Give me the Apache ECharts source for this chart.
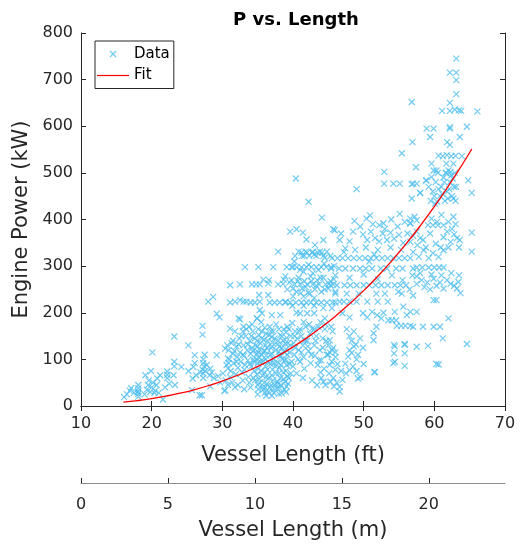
<!DOCTYPE html>
<html><head><meta charset="utf-8">
<script src="https://cdn.jsdelivr.net/npm/echarts@6/dist/echarts.min.js"></script>
<style>html,body{margin:0;padding:0;background:#fff}#c{width:528px;height:548px}</style>
</head><body><div id="c"></div>
<script>
// ---- Data ----
const chartTitle = 'P vs. Length';
const xTicksFt = [10, 20, 30, 40, 50, 60, 70];
const yTicksKW = [0, 100, 200, 300, 400, 500, 600, 700, 800];
const xTicksM = [0, 5, 10, 15, 20];

// vessel length (ft), engine power (kW)
const ptsShort = [
[16.1,19],[16.5,25],[16.9,33],[17.1,38],[17.5,28],[18.0,30],[18.1,20],[18.1,26],[18.1,32],[18.1,38],[18.1,45],
[19.0,25],[19.1,66],[19.3,35],[19.5,45],[19.6,55],[19.8,30],[19.9,75],[20.0,40],[20.1,115],[20.2,50],[20.4,28],[20.5,33],[20.7,45],[20.8,59],[21.0,28],[21.2,66],[21.6,14],[21.9,40],[22.2,60],[22.2,67],[22.2,74],[22.5,48],
[23.1,66],[23.2,85],[23.2,95],[23.2,149],[23.3,45],[24.2,84],[25.2,130],[25.2,75],[25.7,34],[25.8,59],[25.9,84],[26.1,92],[26.1,109],[26.3,66],[26.8,23],[27.1,23],
[27.2,153],[27.2,172],[27.3,60],[27.3,70],[27.2,78],[27.4,85],[27.3,92],[27.3,100],[27.5,110],[27.6,75],[27.8,88],[26.9,72],
[28.0,224],[28.7,234],[28.2,66],[28.3,80],[28.5,72],[28.3,42],[28.8,60],[29.2,198],[29.6,190],[29.2,109],[29.4,64],[29.7,50],[30.1,70],[30.4,123],[30.4,34],[30.3,32],[30.8,80],[30.9,92],[30.8,102],[30.5,55],[30.8,45],[31.1,62],[31.4,50],[30.7,130],[31.1,166]
];

const ptsMidCore = [
[30.6,88],[30.9,120],[31.0,100],[31.2,75],[31.3,135],[31.5,112],[31.6,92],[31.8,160],[31.9,68],[32.0,128],[32.1,105],[32.2,82],[32.4,145],[32.5,186],[32.5,115],[32.6,95],[32.8,72],[32.9,160],[33.0,130],[33.1,108],[33.2,88],[33.1,36],[33.3,150],[33.5,120],[33.6,98],[33.7,62],[33.8,170],[33.9,140],[34.0,112],[34.1,85],[34.2,125],[34.3,160],[34.4,100],[34.5,75],[34.6,145],[34.6,55],
[35.0,25],[35.1,36],[35.0,45],[35.2,58],[34.9,68],[35.1,80],[35.0,92],[35.2,104],[35.1,115],[35.0,128],[34.9,140],[35.2,152],[35.1,165],[34.9,188],[35.3,206],
[36.0,28],[36.1,40],[35.9,50],[36.2,62],[36.0,72],[36.1,85],[35.8,96],[36.2,108],[36.0,118],[36.1,130],[35.9,142],[36.2,155],[36.0,168],[35.6,199],
[37.0,22],[37.1,33],[36.9,44],[37.2,55],[37.0,66],[37.1,78],[36.8,90],[37.2,100],[37.0,112],[36.9,124],[37.1,136],[37.0,148],[37.2,160],[37.0,195],[36.7,170],
[38.0,26],[38.1,38],[37.9,48],[38.2,60],[38.0,70],[38.1,82],[37.8,94],[38.2,106],[38.0,116],[38.1,128],[37.9,140],[38.2,152],[38.0,165],[38.2,195],
[39.0,30],[39.1,42],[38.9,52],[39.2,64],[39.0,75],[39.1,88],[38.8,98],[39.2,110],[39.0,122],[38.9,134],[39.1,146],[39.0,158],[39.2,170],
[35.5,75],[35.6,110],[36.5,95],[36.6,60],[36.4,140],[37.5,85],[37.6,120],[37.4,45],[38.5,100],[38.6,72],[38.4,150],[39.5,90],[39.6,130],[34.8,100],[35.4,135],[36.3,48],[37.7,38],[38.7,58],[39.4,60],[38.4,27],[36.5,30],[35.7,40],
[32.3,188],[34.9,188],
[31.5,140],[31.7,118],[32.0,95],[32.3,132],[32.7,150],[32.9,110],[33.1,78],[33.4,165],[33.6,132],[33.9,90],[34.1,150],[34.3,118],[34.5,95],[34.7,130],[34.9,112],[35.2,122],[35.4,95],[35.6,145],[35.7,65],[35.9,118],[36.1,100],[36.3,125],[36.4,78],[36.6,152],[36.8,110],[37.0,128],[37.3,92],[37.4,145],[37.6,70],[37.8,132],[38.1,110],[38.3,88],[38.4,125],[38.6,140],[38.8,115],[39.0,100],[39.3,135],[39.5,115],[39.7,150],[39.8,95],
[35.3,50],[35.8,35],[36.2,22],[36.7,40],[37.3,28],[37.8,52],[38.3,45],[38.8,35],[39.3,48],[39.7,70],[34.0,40],[34.4,60],[33.8,50],[32.9,55],[32.2,45],[31.8,40],
[35.6,160],[36.9,160],[38.7,165],[39.4,165],[33.0,170],[34.2,175],[35.5,180],[37.6,175],[39.9,178]
];

const ptsMidUpper = [
[40.0,85],[40.2,110],[40.1,135],[40.3,160],[40.5,70],[40.6,145],[40.8,120],[41.0,95],[41.0,165],[41.2,150],[41.4,130],[41.5,105],[41.6,80],[41.8,170],[42.0,140],[42.2,118],[42.4,155],[42.5,92],[42.7,166],[43.0,130],[43.1,108],[43.3,150],[43.5,88],[43.6,170],[43.8,120],[44.0,98],[44.0,60],[44.2,145],[44.4,80],[44.5,165],[44.6,45],[44.8,110],[45.0,130],[45.1,70],[45.3,52],[45.5,95],[45.6,160],[45.8,42],[46.0,115],[46.0,78],[44.3,52],[43.9,72],[45.2,88],[40.5,200],[41.0,199],[42.0,199],[43.0,199],[44.5,188],
[40.3,125],[40.7,100],[41.2,115],[41.7,140],[42.1,128],[42.6,110],[43.2,140],[43.7,98],[44.2,125],[44.7,140],[45.2,115],[45.7,125],[40.2,150],[40.9,160],[41.5,180],[42.3,175],[43.0,165],[43.9,180],[44.6,175],[45.4,170],[41.4,60],[42.7,55],[43.4,45],
[31.1,222],[31.8,224],[32.5,227],[33.0,224],[33.4,224],[34.0,222],[34.6,222],[35.3,224],[36.7,222],[37.4,222],[38.1,222],[38.9,222],[39.6,222],[40.4,222],[41.2,222],[41.9,222],[42.5,222],[43.3,222],[44.0,222],[44.8,222],[45.6,222],[46.0,222],[36.5,238],[35.2,238],[40.0,235],[43.0,232],
[39.0,224],[39.9,215],[41.5,215],[43.0,215],[44.3,210],[45.5,210],
[31.1,259],[35.8,271],[36.6,270],[38.7,271],[38.6,262],[39.2,250],[39.8,270],[40.2,261],[40.5,245],[40.8,275],[41.0,261],[41.3,252],[41.6,268],[42.0,261],[42.2,244],[42.5,278],[42.8,261],[43.1,250],[43.4,270],[43.7,261],[44.0,245],[44.3,275],[44.6,261],[45.0,252],[45.3,268],[45.7,261],[46.0,245],[32.5,261],[34.2,261],[34.8,261],[35.3,261],[36.5,263],[37.9,261],[41.5,235],[42.3,240],
[38.9,278],[39.5,265],[40.0,252],[40.7,268],[41.1,242],[41.8,255],[42.6,268],[43.3,258],[43.9,275],[44.5,250],[45.1,262],[45.8,272],
[33.2,298],[35.1,298],[37.2,298],[39.1,298],[39.8,298],[40.5,298],[41.2,298],[41.9,298],[42.6,298],[43.3,298],[44.0,298],[44.7,298],[45.4,298],[41.5,288],[42.8,285],[40.2,310],
[40.0,298],[41.0,292],[42.2,303],[43.6,292],[44.4,305],[45.8,300],
[37.9,331],[40.3,322],[40.8,331],[41.3,322],[41.8,331],[42.3,322],[42.8,331],[43.3,322],[43.8,331],[44.3,322],[44.8,331],[45.3,322],[41.2,329],[42.0,329],[42.7,329],[43.5,329],[44.1,329],[41.6,322],[43.0,325],[44.5,318],
[40.4,488],[42.2,438],[44.1,404],[39.6,374],[40.5,379],[41.4,372],[41.9,357],[44.3,356],[43.1,345],[45.7,379]
];

const ptsLong = [
[52.9,502],[52.9,477],[54.2,477],[55.1,477],[56.8,476],[57.5,477],[49.0,465],[56.8,445],[58.0,457],
[48.7,397],[50.4,402],[50.9,409],[52.2,388],[52.8,392],[53.9,400],[55.1,412],[56.6,392],[56.6,402],[55.8,395],
[45.9,377],[46.6,356],[47.4,338],[48.0,353],[48.5,374],[49.9,368],[50.5,356],[51.0,374],[51.6,360],[52.2,353],[52.7,370],[53.3,356],[53.8,372],[54.3,359],[55.0,367],[55.6,350],[56.2,370],
[47.2,330],[48.8,335],[50.3,340],[52.0,335],[53.8,340],[55.3,335],[46.8,370],[49.5,385],[51.3,390],[53.0,380],[54.8,385],
[45.5,317],[46.3,317],[47.0,317],[47.8,317],[48.6,317],[49.4,317],[50.2,317],[51.0,317],[51.8,317],[52.6,317],[53.4,317],[54.2,317],[55.0,317],[55.8,317],[56.6,317],[50.8,310],[51.5,325],
[45.4,295],[46.5,295],[47.4,295],[48.5,295],[49.5,295],[50.3,295],[51.2,295],[52.4,295],[53.3,295],[54.6,295],[55.5,295],[57.0,295],
[46.0,280],[48.0,275],[50.0,282],[52.0,272],[54.0,280],[55.5,270],[57.5,278],
[45.3,259],[46.2,259],[47.3,259],[48.1,259],[49.0,259],[50.0,259],[50.8,259],[51.7,259],[52.5,259],[53.4,259],[54.4,259],[55.2,259],[56.0,259],[56.5,250],[54.9,245],[55.4,241],
[46.0,241],[47.6,241],[49.3,241],[51.8,241],[53.0,241],
[46.6,224],[47.2,224],[48.0,224],[49.0,224],[50.5,224],[52.0,224],[53.4,224],[55.6,213],
[49.9,199],[50.5,190],[51.2,202],[51.9,195],[52.5,188],[52.8,200],[54.4,202],[53.5,184],[54.0,184],[54.6,184],[56.1,195],[47.0,199],[48.0,190],
[54.7,172],[55.3,172],[55.9,172],[56.6,172],[51.8,170],[51.4,156],[51.4,141],
[47.6,165],[48.0,150],[48.3,140],[48.6,128],[48.3,114],[48.0,120],[48.9,132],[49.2,110],[49.5,145],[49.9,125],[47.8,106],[48.6,160],[49.0,100],
[45.2,141],[45.5,120],[46.0,105],[46.3,90],[46.8,75],[45.7,60],[46.2,50],[46.6,41],[45.0,110],[46.6,31],
[47.4,91],[48.0,77],[49.2,59],[51.6,73],[54.3,131],[54.3,113],[54.4,95],[55.8,131],[55.8,113],
[47.0,56],[47.5,70],[48.5,85],[49.0,75],[49.5,62],[50.0,90],[51.5,72],[54.2,92],[54.4,128],[55.8,86],[55.8,133]
];

const ptsVeryLong = [
[59.5,440],[59.8,460],[60.2,480],[60.5,500],[60.8,450],[61.0,470],[61.3,490],[61.5,440],[61.8,460],[62.0,505],[62.2,480],[62.5,450],[62.8,470],[63.0,440],[59.9,505],[61.6,500],[62.4,495],[60.4,438],[61.1,455],[62.7,445],
[58.8,484],[59.2,470],[60.0,450],[60.6,465],[61.4,480],[62.1,465],[62.6,488],[63.1,470],[60.3,505],[61.9,445],
[57.0,477],[58.9,484],[58.0,457],[60.1,434],[59.6,491],[64.8,484],[65.3,457],
[56.6,392],[57.2,406],[57.5,398],[59.1,388],[59.8,388],[60.5,388],[61.3,388],[62.7,406],[65.3,372],
[59.6,402],[60.4,395],[61.0,410],[62.0,395],[62.5,380],[63.0,390],
[56.6,352],[57.0,365],[57.5,374],[58.0,360],[58.4,356],[59.4,370],[61.3,362],[61.8,374],[62.3,352],[62.8,368],[63.2,360],[63.6,356],[65.3,331],
[57.6,345],[58.8,340],[60.2,348],[60.9,340],[62.0,340],[63.5,340],
[57.0,330],[57.8,320],[58.5,334],[59.2,317],[59.8,328],[60.6,320],[61.3,334],
[57.5,297],[58.3,297],[59.2,297],[60.0,297],[60.7,297],[61.3,297],
[56.9,280],[58.0,285],[59.6,282],[61.0,280],[62.4,285],[63.5,280],
[57.5,262],[58.2,270],[58.6,255],[59.0,265],[59.4,250],[59.9,273],[60.3,258],[60.8,265],[61.3,252],[61.8,270],[62.3,262],[62.8,258],[63.4,266],[63.2,252],[63.7,242],
[57.0,237],[59.9,227],[60.3,227],[56.6,202],[57.5,202],[62.0,188],[57.0,170],[58.4,170],[59.9,170],[60.8,170],[61.2,145],[57.5,127],[59.1,129],[64.6,133],[60.6,89],[60.3,90],
[63.1,745],[62.2,715],[63.1,715],[63.1,699],[63.1,669],[56.8,652],[62.2,650],[61.1,633],[62.2,633],[62.9,636],[63.5,634],[63.8,633],[66.1,632],
[58.9,595],[59.9,595],[62.2,598],[62.2,595],[64.6,599],[59.4,577],[63.6,577],[56.9,566],[61.8,566],[62.2,560],[55.4,542],
[60.6,537],[61.2,536],[61.8,538],[62.4,536],[63.0,537],[63.9,536],[59.6,520],[61.7,520],[62.7,520],[57.4,512],[61.7,500],[62.3,502],[62.9,500]
];

// cubic power-law fit
const fitLengthFt = [16, 18, 20, 22, 24, 26, 28, 30, 32, 34, 36, 38, 40, 42, 44, 46, 48, 50, 52, 54, 56, 58, 60, 62, 64, 65.3];
const fitPowerKW  = [8.1, 11.5, 15.8, 21.1, 27.4, 34.8, 43.5, 53.5, 64.9, 77.8, 92.4, 108.6, 126.7, 146.7, 168.7, 192.7, 219.0, 247.5, 278.4, 311.8, 347.7, 386.3, 427.7, 471.9, 519.0, 551.3];

// ---- Chart ----
const FONT = 'DejaVu Sans';
const AX = '#262626';
const crossPath = 'path://M0,0L10,10M10,0L0,10';
const linePath = 'path://M0,0L32,0L32,1.2L0,1.2Z';
const scatterData = [].concat(ptsShort, ptsMidCore, ptsMidUpper, ptsLong, ptsVeryLong);
const fitData = fitLengthFt.map((x, i) => [x, fitPowerKW[i]]);

const chart = echarts.init(document.getElementById('c'), null, {renderer: 'canvas'});
const baseAxis = {
  axisLine: {show: true, lineStyle: {color: AX, width: 1}},
  axisTick: {show: true, inside: true, length: 5, lineStyle: {color: AX}},
  splitLine: {show: false},
  axisLabel: {color: AX, fontFamily: FONT, fontSize: 16},
  nameTextStyle: {color: AX, fontFamily: FONT, fontSize: 21}
};
chart.setOption({
  animation: false,
  backgroundColor: '#fff',
  title: {
    text: chartTitle, left: 291, top: 6, textAlign: 'center',
    textStyle: {fontFamily: FONT, fontSize: 18, fontWeight: 'bold', color: '#000'}
  },
  legend: {
    left: 95, top: 41, orient: 'vertical',
    padding: [5, 4, 5, 2], itemWidth: 32, itemHeight: 6, itemGap: 5.5,
    borderColor: AX, borderWidth: 1, backgroundColor: '#fff',
    textStyle: {fontFamily: FONT, fontSize: 15, color: '#000', lineHeight: 16},
    data: [
      {name: 'Data', icon: crossPath, itemStyle: {color: 'transparent', borderColor: '#4DBEEE', borderWidth: 1.2}},
      {name: 'Fit', icon: linePath, itemStyle: {color: '#FF0000', borderWidth: 0}}
    ]
  },
  grid: {left: 81, right: 23, top: 33, bottom: 142, containLabel: false},
  xAxis: [
    Object.assign({}, baseAxis, {
      type: 'value', position: 'bottom', min: xTicksFt[0], max: xTicksFt[xTicksFt.length - 1], interval: 10,
      name: 'Vessel Length (ft)', nameLocation: 'middle', nameGap: 39,
      axisLabel: Object.assign({}, baseAxis.axisLabel, {margin: 10})
    }),
    Object.assign({}, baseAxis, {
      type: 'value', position: 'top', min: xTicksFt[0], max: xTicksFt[xTicksFt.length - 1], interval: 10,
      axisLabel: {show: false}
    }),
    Object.assign({}, baseAxis, {
      type: 'value', position: 'bottom', offset: 77, min: 0, max: 24.384, interval: 5,
      name: 'Vessel Length (m)', nameLocation: 'middle', nameGap: 37,
      axisLine: {show: true, lineStyle: {color: '#8c8c8c', width: 1}},
      axisTick: {show: true, inside: true, length: 5, lineStyle: {color: AX}, customValues: xTicksM},
      axisLabel: Object.assign({}, baseAxis.axisLabel, {margin: 14, customValues: xTicksM})
    })
  ],
  yAxis: [
    Object.assign({}, baseAxis, {
      type: 'value', position: 'left', min: yTicksKW[0], max: yTicksKW[yTicksKW.length - 1], interval: 100,
      name: 'Engine Power (kW)', nameLocation: 'middle', nameGap: 28,
      axisLabel: Object.assign({}, baseAxis.axisLabel, {margin: 8})
    }),
    Object.assign({}, baseAxis, {
      type: 'value', position: 'right', min: yTicksKW[0], max: yTicksKW[yTicksKW.length - 1], interval: 100,
      axisLabel: {show: false}
    })
  ],
  series: [
    {
      name: 'Data', type: 'scatter', xAxisIndex: 0, yAxisIndex: 0,
      symbol: crossPath, symbolSize: 6,
      itemStyle: {color: 'transparent', borderColor: '#4DBEEE', borderWidth: 1.2},
      data: scatterData, z: 2
    },
    {
      name: 'Fit', type: 'line', xAxisIndex: 0, yAxisIndex: 0,
      symbol: 'none', smooth: true,
      lineStyle: {color: '#FF0000', width: 1.3},
      itemStyle: {color: '#FF0000'},
      data: fitData, z: 3
    }
  ]
});
</script>
</body></html>
